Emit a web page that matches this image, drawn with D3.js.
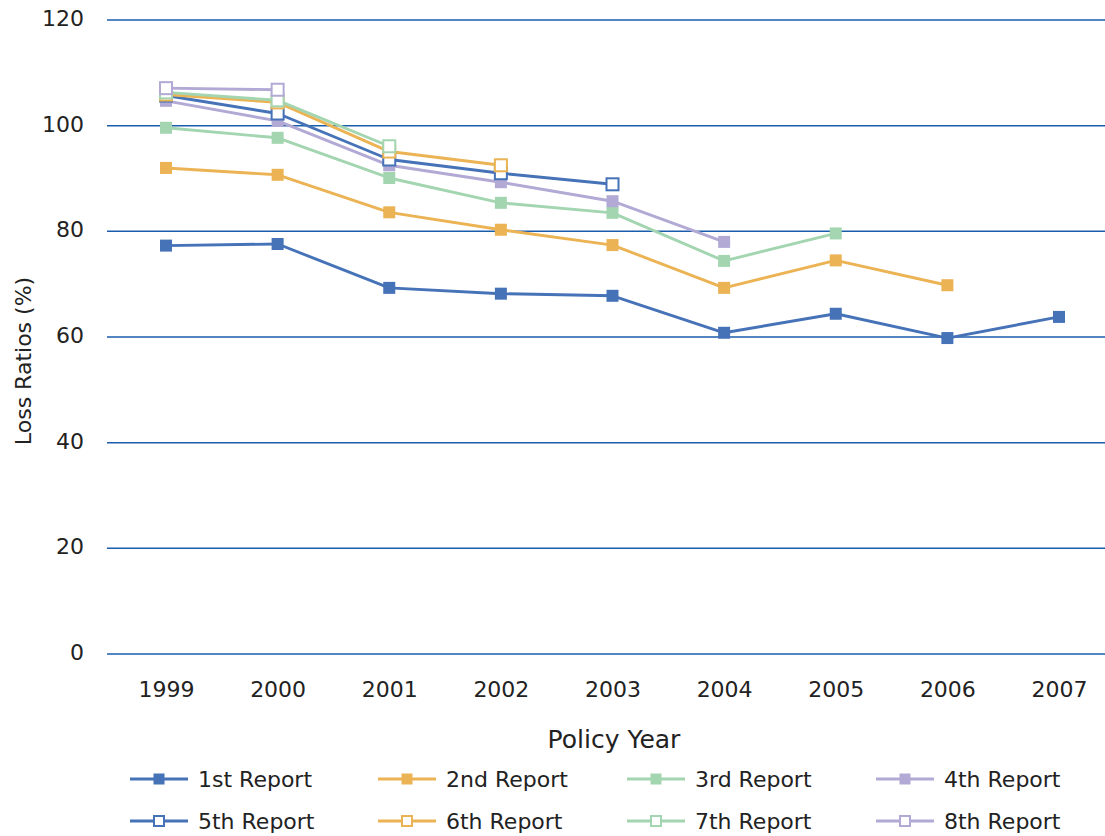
<!DOCTYPE html>
<html>
<head>
<meta charset="utf-8">
<script src="https://cdn.jsdelivr.net/npm/d3@7"></script>
<style>
  html, body { margin: 0; padding: 0; background: #fff; }
  svg { display: block; font-family: "DejaVu Sans", sans-serif; }
</style>
</head>
<body>
<svg id="chart" width="1105" height="836"></svg>
<script>
// Policy years and loss ratios (%) by report evaluation
const years = ["1999", "2000", "2001", "2002", "2003", "2004", "2005", "2006", "2007"];
const yTicks = [0, 20, 40, 60, 80, 100, 120];

const report1 = [77.3, 77.6, 69.3, 68.2, 67.8, 60.8, 64.4, 59.8, 63.8];
const report2 = [92.0, 90.7, 83.6, 80.3, 77.4, 69.3, 74.5, 69.8];
const report3 = [99.6, 97.7, 90.1, 85.4, 83.5, 74.4, 79.6];
const report4 = [104.7, 100.9, 92.5, 89.3, 85.7, 78.0];
const report5 = [105.7, 102.3, 93.6, 91.0, 88.9];
const report6 = [105.9, 104.4, 95.1, 92.5];
const report7 = [106.3, 104.8, 96.1];
const report8 = [107.1, 106.8];

const seriesNames = ["1st Report", "2nd Report", "3rd Report", "4th Report",
                     "5th Report", "6th Report", "7th Report", "8th Report"];
const seriesValues = [report1, report2, report3, report4, report5, report6, report7, report8];

const palette = ["#4672b8", "#ebb354", "#a3d5b1", "#b2a9d5"];
const series = seriesNames.map((name, i) => ({
  name,
  values: seriesValues[i].map((v, j) => ({ year: years[j], value: v })),
  color: palette[i % 4],
  hollow: i >= 4
}));

const svg = d3.select("#chart");
const textColor = "#222222";

const x = d3.scalePoint().domain(years).range([166, 1059]);
const y = d3.scaleLinear().domain([0, 120]).range([654, 20]);

// Value axis labels
const yAxis = d3.axisLeft(y).tickValues(yTicks).tickSize(0).tickPadding(0);
const gy = svg.append("g").attr("transform", "translate(84,0)").call(yAxis);
gy.select(".domain").remove();
gy.selectAll("text")
  .attr("font-size", 22)
  .attr("fill", textColor)
  .attr("font-family", "DejaVu Sans, sans-serif")
  .attr("dy", "0.25em");

// Horizontal gridlines
svg.append("g").selectAll("line")
  .data(yTicks)
  .join("line")
  .attr("x1", 107).attr("x2", 1105)
  .attr("y1", d => y(d)).attr("y2", d => y(d))
  .attr("stroke", "#1a5dab")
  .attr("stroke-width", 1.5);

// Category axis labels
const xAxis = d3.axisBottom(x).tickSize(0).tickPadding(0);
const gx = svg.append("g").attr("transform", "translate(0,697)").call(xAxis);
gx.select(".domain").remove();
gx.selectAll("text")
  .attr("font-size", 22)
  .attr("fill", textColor)
  .attr("font-family", "DejaVu Sans, sans-serif")
  .attr("dy", 0);

// Axis titles
svg.append("text")
  .attr("x", 614).attr("y", 748)
  .attr("text-anchor", "middle")
  .attr("font-size", 25)
  .attr("fill", textColor)
  .text("Policy Year");

svg.append("text")
  .attr("transform", "translate(31,361) rotate(-90)")
  .attr("text-anchor", "middle")
  .attr("font-size", 22)
  .attr("fill", textColor)
  .text("Loss Ratios (%)");

// Lines and markers
const line = d3.line().x(d => x(d.year)).y(d => y(d.value));
const ms = 12;

const gs = svg.append("g").selectAll("g")
  .data(series)
  .join("g");

gs.append("path")
  .attr("d", d => line(d.values))
  .attr("fill", "none")
  .attr("stroke", d => d.color)
  .attr("stroke-width", 2.9)
  .attr("stroke-linejoin", "round");

gs.each(function (s) {
  d3.select(this).selectAll("rect")
    .data(s.values)
    .join("rect")
    .attr("x", d => x(d.year) - ms / 2)
    .attr("y", d => y(d.value) - ms / 2)
    .attr("width", ms).attr("height", ms)
    .attr("fill", s.hollow ? "#fff" : s.color)
    .attr("stroke", s.hollow ? s.color : "none")
    .attr("stroke-width", s.hollow ? 2 : 0);
});

// Legend
const legendX = [130, 378, 627, 876];
const legendY = [779, 821];
const lg = svg.append("g").selectAll("g")
  .data(series)
  .join("g")
  .attr("transform", (d, i) => `translate(${legendX[i % 4]},${legendY[Math.floor(i / 4)]})`);

lg.append("line")
  .attr("x1", 0).attr("x2", 58)
  .attr("y1", 0).attr("y2", 0)
  .attr("stroke", d => d.color)
  .attr("stroke-width", 3);

lg.append("rect")
  .attr("x", d => d.hollow ? 24 : 23.5)
  .attr("y", d => d.hollow ? -5 : -5.5)
  .attr("width", d => d.hollow ? 10 : 11)
  .attr("height", d => d.hollow ? 10 : 11)
  .attr("fill", d => d.hollow ? "#fff" : d.color)
  .attr("stroke", d => d.hollow ? d.color : "none")
  .attr("stroke-width", d => d.hollow ? 2 : 0);

lg.append("text")
  .attr("x", 68).attr("y", 0)
  .attr("dy", "0.36em")
  .attr("font-size", 22)
  .attr("fill", textColor)
  .text(d => d.name);
</script>
</body>
</html>
